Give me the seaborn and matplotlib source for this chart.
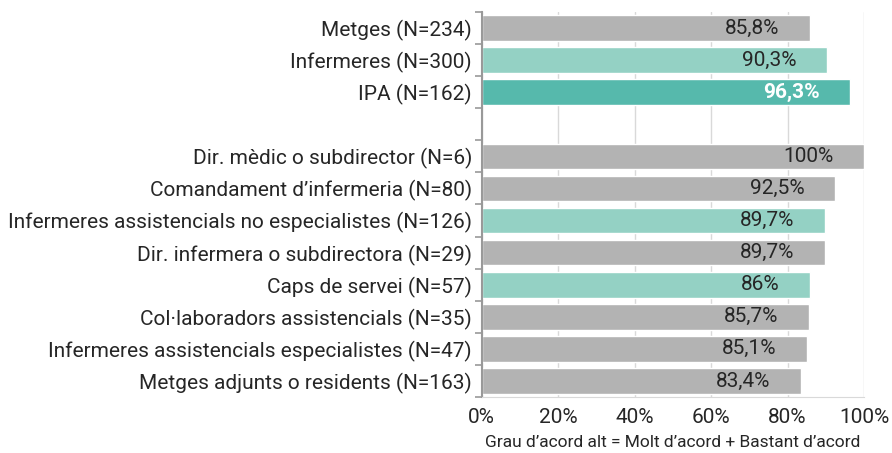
import matplotlib
matplotlib.use("Agg")
import matplotlib.pyplot as plt
import numpy as np
import pandas as pd
import seaborn as sns

labels = [
    "Metges (N=234)",
    "Infermeres (N=300)",
    "IPA (N=162)",
    "",
    "Dir. mèdic o subdirector (N=6)",
    "Comandament d’infermeria (N=80)",
    "Infermeres assistencials no especialistes (N=126)",
    "Dir. infermera o subdirectora (N=29)",
    "Caps de servei (N=57)",
    "Col·laboradors assistencials (N=35)",
    "Infermeres assistencials especialistes (N=47)",
    "Metges adjunts o residents (N=163)",
]
values = [85.8, 90.3, 96.3, np.nan, 100, 92.5, 89.7, 89.7, 86, 85.7, 85.1, 83.4]
value_text = ["85,8%", "90,3%", "96,3%", "", "100%", "92,5%", "89,7%", "89,7%",
              "86%", "85,7%", "85,1%", "83,4%"]
group = ["gray", "light", "dark", "gray", "gray", "gray", "light", "gray",
         "light", "gray", "gray", "gray"]

colors = {"gray": "#b3b3b3", "light": "#94d1c4", "dark": "#56b9ac"}

sns.set_style("white")
plt.rcParams["font.family"] = ["Roboto", "DejaVu Sans"]

df = pd.DataFrame({"label": labels, "value": values, "group": group})

fig = plt.figure(figsize=(8.92, 4.53), dpi=100)
ax = fig.add_axes([0.540, 0.1236, 0.4286, 0.85])

sns.barplot(data=df.dropna(), x="value", y="label", hue="group", order=labels,
            palette=colors, width=0.8, legend=False, ax=ax, orient="h",
            saturation=1)

ax.set_xlim(0, 100)
ax.set_ylim(len(labels) - 0.5, -0.5)
ax.set_xticks([0, 20, 40, 60, 80, 100])
ax.set_xticklabels([f"{t}%" for t in [0, 20, 40, 60, 80, 100]])
ax.tick_params(axis="x", length=0, labelsize=15, labelcolor="#262626", pad=8)
ax.tick_params(axis="y", which="major", length=0, labelsize=15,
               labelcolor="#262626", pad=7)
ax.set_yticks(np.arange(len(labels) + 1) - 0.5, minor=True)
ax.tick_params(axis="y", which="minor", left=True, length=5, width=1.2,
               color="#999999")
ax.set_ylabel("")
ax.set_xlabel("Grau d’acord alt = Molt d’acord + Bastant d’acord",
              fontsize=12.5, color="#262626", labelpad=6)

ax.grid(axis="x", color="#d9d9d9", linewidth=1)
ax.set_axisbelow(True)
for s in ["top", "right"]:
    ax.spines[s].set_visible(False)
ax.spines["left"].set_color("#999999")
ax.spines["left"].set_linewidth(1.5)
ax.spines["bottom"].set_color("#d9d9d9")

for i, (v, t, g) in enumerate(zip(values, value_text, group)):
    if not t:
        continue
    if g == "dark":
        ax.text(v - 8, i, t, ha="right", va="center", fontsize=15,
                color="white", fontweight="bold")
    else:
        ax.text(v - 8, i, t, ha="right", va="center", fontsize=15,
                color="#262626")

fig.savefig("out.png", dpi=100)
